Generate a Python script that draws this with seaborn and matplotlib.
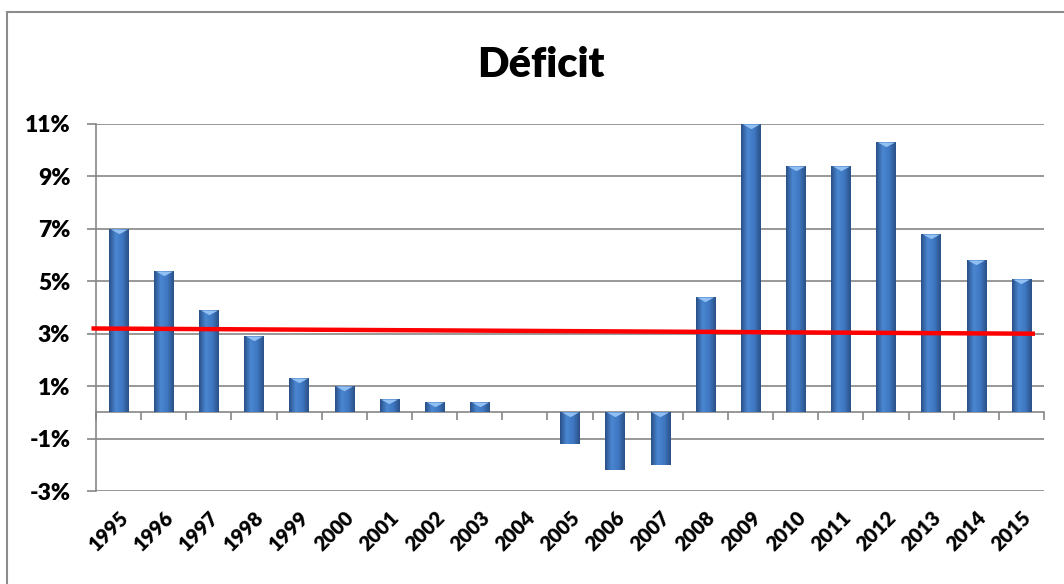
import numpy as np
import pandas as pd
import seaborn as sns
import matplotlib.pyplot as plt
from matplotlib.patches import Rectangle
from matplotlib.colors import LinearSegmentedColormap

sns.set_style("white")
plt.rcParams['font.family'] = ['Lato', 'DejaVu Sans']
plt.rcParams['font.weight'] = 'bold'
plt.rcParams['text.color'] = 'black'
plt.rcParams['xtick.color'] = 'black'
plt.rcParams['ytick.color'] = 'black'

# data
years = ['1995', '1996', '1997', '1998', '1999', '2000', '2001', '2002', '2003', '2004', '2005',
         '2006', '2007', '2008', '2009', '2010', '2011', '2012', '2013', '2014', '2015']
deficit = [7.0, 5.4, 3.9, 2.9, 1.3, 1.0, 0.5, 0.4, 0.4, 0.0, -1.2,
           -2.2, -2.0, 4.4, 11.0, 9.4, 9.4, 10.3, 6.8, 5.8, 5.1]
trend_ends = [3.2, 3.0]   # linear trend line, first and last value
y_ticks = list(range(-3, 12, 2))

df = pd.DataFrame({'year': years, 'deficit': deficit})

grid_col = '#868686'
fig = plt.figure(figsize=(10.64, 5.84), dpi=100)
ax = fig.add_axes([96 / 1064, 1 - 491 / 584, (1044 - 96) / 1064, (491 - 124) / 584])

sns.barplot(data=df, x='year', y='deficit', color='#3567AE', width=0.43, ax=ax,
            saturation=1, zorder=3, linewidth=0)

# gradient shading inside each bar
cmap = LinearSegmentedColormap.from_list('bar', ['#2A5087', '#4A86D2', '#3F78C2', '#2A5087'])
grad = np.linspace(0, 1, 64).reshape(1, -1)
for p in ax.patches:
    x0, y0 = p.get_x(), p.get_y()
    w, h = p.get_width(), p.get_height()
    if h == 0:
        continue
    im = ax.imshow(grad, cmap=cmap, aspect='auto', zorder=3.5,
                   extent=[x0, x0 + w, min(y0, y0 + h), max(y0, y0 + h)])
    im.set_clip_path(p)

# bevel highlight at top of each bar
tri = [(-1, 0), (1, 0), (0, -0.55)]
tops = [max(v, 0) for v in deficit]
pos = [i for i, v in enumerate(deficit) if v != 0]
ax.scatter(pos, [tops[i] for i in pos], marker=tri, s=150, color='#93C0F2',
           linewidths=0, zorder=4)

# trend line
ax.plot([-0.6, len(years) - 0.7], trend_ends, color='#FF0000', lw=3.2,
        solid_capstyle='butt', zorder=5, clip_on=False)

ax.set_xlim(-0.5, len(years) - 0.5)
ax.set_ylim(-3, 11)
ax.set_yticks(y_ticks)
ax.set_yticklabels([f'{v}%' for v in y_ticks], fontsize=16.5, fontweight='heavy')
ax.yaxis.grid(True, color=grid_col, lw=1.2, zorder=0)
ax.set_axisbelow(True)
ax.tick_params(axis='y', length=6.5, width=1.2, color=grid_col, labelcolor='black',
               pad=12, left=True)

ax.set_xticks(range(len(years)))
ax.set_xticklabels(years, rotation=45, ha='right', rotation_mode='anchor',
                   fontsize=14.5, fontweight='heavy')
ax.tick_params(axis='x', length=0, pad=12, labelcolor='black')
ax.set_xlabel('')
ax.set_ylabel('')

for s in ['top', 'right', 'bottom']:
    ax.spines[s].set_visible(False)
ax.spines['left'].set_color(grid_col)
ax.spines['left'].set_linewidth(1.2)

# category axis drawn at zero with boundary tick marks
sec = ax.secondary_xaxis(3 / 14)
sec.set_xticks(np.arange(-0.5, len(years)))
sec.set_xticklabels([])
sec.tick_params(length=6, width=1.2, color=grid_col, direction='out')
sec.spines['bottom'].set_color(grid_col)
sec.spines['bottom'].set_linewidth(1.2)

# chart frame and title
fig.patches.append(Rectangle((7 / 1064, -0.1), 1.2, 1.1 - 12 / 584, transform=fig.transFigure,
                             fill=False, edgecolor='#8C8C8C', lw=1.5))
fig.text(0.508, 1 - 65 / 584, 'Déficit', ha='center', va='center', fontsize=30,
         fontweight='heavy', color='black')

fig.savefig('out.png', dpi=100)
